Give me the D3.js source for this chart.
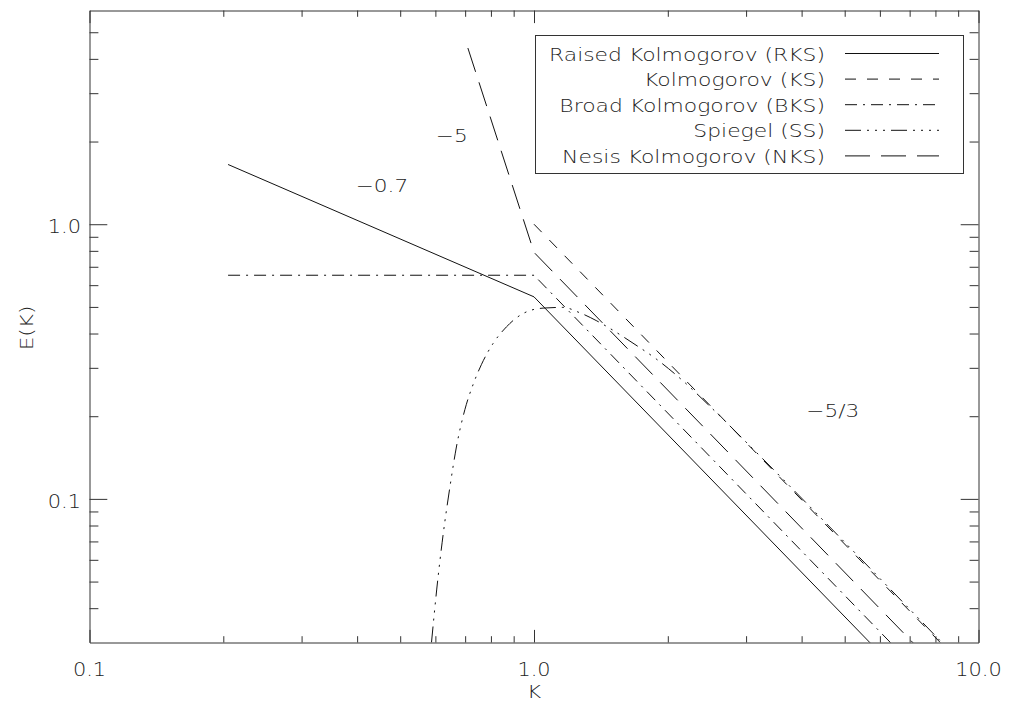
<!DOCTYPE html>
<html><head><meta charset="utf-8">
<script src="https://cdn.jsdelivr.net/npm/d3@7"></script>
<style>
body{margin:0;background:#fff}
svg{display:block}
text{font-family:"DejaVu Sans","Liberation Sans",sans-serif;font-weight:200;fill:#222}
</style>
</head><body>
<svg id="c" width="1011" height="707"></svg>
<script>
// ---- data ----
const xMajorTicks = [0.1, 1, 10];
const xTickLabels = ["0.1", "1.0", "10.0"];
const xMinorTicks = [0.2,0.3,0.4,0.5,0.6,0.7,0.8,0.9,2,3,4,5,6,7,8,9];
const yMajorTicks = [0.1, 1];
const yTickLabels = ["0.1", "1.0"];
const yMinorTicks = [0.04,0.05,0.06,0.07,0.08,0.09,0.2,0.3,0.4,0.5,0.6,0.7,0.8,0.9,2,3,4,5];

const seriesNames = ["Raised Kolmogorov (RKS)", "Kolmogorov (KS)", "Broad Kolmogorov (BKS)", "Spiegel (SS)", "Nesis Kolmogorov (NKS)"];
const seriesKeys = ["RKS", "KS", "BKS", "SS", "NKS"];

const rksK = [0.205, 1.0, 6.0];
const rksE = [1.65, 0.544, 0.0275];
const ksK = [1.0, 9.0];
const ksE = [1.0, 0.0257];
const bksK = [0.205, 1.0, 7.0];
const bksE = [0.652, 0.652, 0.0254];
const ssK = [0.588, 0.604, 0.625, 0.647, 0.669, 0.699, 0.730, 0.762, 0.809, 0.867, 0.945, 1.048, 1.161, 1.268, 1.380, 1.455, 1.670, 1.884, 2.163, 2.512, 3.16, 5.0, 8.6];
const ssE = [0.030, 0.0466, 0.0748, 0.1107, 0.1545, 0.2113, 0.2618, 0.309, 0.368, 0.423, 0.473, 0.495, 0.498, 0.476, 0.446, 0.425, 0.369, 0.323, 0.269, 0.214, 0.148, 0.0695, 0.0281];
const nksK = [0.71, 1.0, 8.5];
const nksE = [4.38, 0.79, 0.0223];

const slopeLabels = ["\u22120.7", "\u22125", "\u22125/3"];
const slopeLabelK = [0.455, 0.653, 4.70];
const slopeLabelE = [1.31, 1.99, 0.198];

const xTitle = "K";
const yTitle = "E(K)";

// ---- styles ----
const dashes = {RKS: null, KS: "11,11", BKS: "12,6,2,6", SS: "16,6,2,6,2,6,2,6", NKS: "25,11"};

const svg = d3.select("#c");
const x = d3.scaleLog().domain([0.1, 10]).range([89.5, 978.5]);
const y = d3.scaleLog().domain([0.03, 6]).range([642.5, 10.5]);

svg.append("defs").append("clipPath").attr("id","clip")
  .append("rect").attr("x", x.range()[0]).attr("y", y.range()[1])
  .attr("width", x.range()[1]-x.range()[0]).attr("height", y.range()[0]-y.range()[1]);

const axisColor = "#333";
function axisStyle(g){
  g.selectAll("path.domain").attr("stroke", axisColor).attr("stroke-width",1);
  g.selectAll(".tick line").attr("stroke", axisColor).attr("stroke-width",1);
  g.selectAll(".tick text").remove();
}
const XMAJ = 12.6, XMIN = 6.3, YMAJ = 17.8, YMIN = 8.9;
[["bottom", y.range()[0]], ["top", y.range()[1]]].forEach(([side, pos]) => {
  const gen = side === "bottom" ? d3.axisBottom : d3.axisTop;
  svg.append("g").attr("transform", `translate(0,${pos})`)
    .call(gen(x).tickValues(xMajorTicks).tickSize(-XMAJ).tickSizeOuter(0).tickFormat(""))
    .call(axisStyle);
  svg.append("g").attr("transform", `translate(0,${pos})`)
    .call(gen(x).tickValues(xMinorTicks).tickSize(-XMIN).tickSizeOuter(0).tickFormat(""))
    .call(axisStyle).call(g => g.select("path.domain").remove());
});
[["left", x.range()[0]], ["right", x.range()[1]]].forEach(([side, pos]) => {
  const gen = side === "left" ? d3.axisLeft : d3.axisRight;
  svg.append("g").attr("transform", `translate(${pos},0)`)
    .call(gen(y).tickValues(yMajorTicks).tickSize(-YMAJ).tickSizeOuter(0).tickFormat(""))
    .call(axisStyle);
  svg.append("g").attr("transform", `translate(${pos},0)`)
    .call(gen(y).tickValues(yMinorTicks).tickSize(-YMIN).tickSizeOuter(0).tickFormat(""))
    .call(axisStyle).call(g => g.select("path.domain").remove());
});

function addText(txt, px, py, anchor, size, sx, rot){
  let tr = `translate(${px},${py})`;
  if (rot) tr += ` rotate(${rot})`;
  tr += ` scale(${sx},1)`;
  svg.append("text").attr("transform", tr).attr("text-anchor", anchor)
    .style("font-size", size + "px").text(txt);
}

// tick labels
xMajorTicks.forEach((v,i) => addText(xTickLabels[i], x(v), 675.5, "middle", 19, 1.1));
yMajorTicks.forEach((v,i) => addText(yTickLabels[i], 81, y(v) + 9, "end", 19, 1.1));
// titles
addText(xTitle, (x.range()[0]+x.range()[1])/2, 698, "middle", 18, 1.2);
addText(yTitle, 33, 328, "middle", 18, 1.2, -90);

// series
const line = d3.line().x(d => x(d[0])).y(d => y(d[1]));
const smooth = d3.line().x(d => x(d[0])).y(d => y(d[1])).curve(d3.curveMonotoneX);
const seriesData = {
  RKS: rksK.map((k,i)=>[k, rksE[i]]),
  KS: ksK.map((k,i)=>[k, ksE[i]]),
  BKS: bksK.map((k,i)=>[k, bksE[i]]),
  SS: ssK.map((k,i)=>[k, ssE[i]]),
  NKS: nksK.map((k,i)=>[k, nksE[i]])
};
const plotG = svg.append("g").attr("clip-path","url(#clip)");
seriesKeys.forEach(key => {
  plotG.append("path").attr("d", (key === "SS" ? smooth : line)(seriesData[key]))
    .attr("fill","none").attr("stroke","#111").attr("stroke-width",1)
    .attr("stroke-dasharray", dashes[key]);
});

// slope annotations
slopeLabels.forEach((t,i) => addText(t, x(slopeLabelK[i]), y(slopeLabelE[i]), "middle", 18, 1.2));

// legend
svg.append("rect").attr("x",535.5).attr("y",35.5).attr("width",428).attr("height",138)
  .attr("fill","#fff").attr("stroke",axisColor).attr("stroke-width",1);
seriesKeys.forEach((key,i) => {
  const by = 60.5 + i*25.6;
  addText(seriesNames[i], 825, by, "end", 17.5, 1.25);
  svg.append("line").attr("x1",845).attr("x2",939).attr("y1",by-7).attr("y2",by-7)
    .attr("stroke","#111").attr("stroke-width",1).attr("stroke-dasharray", dashes[key]);
});
</script>
</body></html>
